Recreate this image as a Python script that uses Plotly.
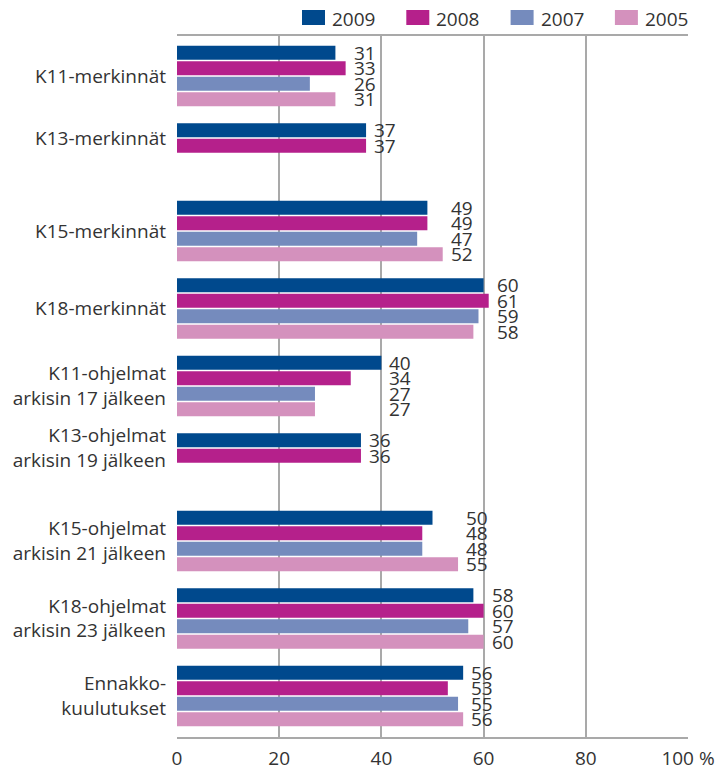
import plotly.graph_objects as go

categories = [
    "K11-merkinnät",
    "K13-merkinnät",
    "K15-merkinnät",
    "K18-merkinnät",
    "K11-ohjelmat<br>arkisin 17 jälkeen",
    "K13-ohjelmat<br>arkisin 19 jälkeen",
    "K15-ohjelmat<br>arkisin 21 jälkeen",
    "K18-ohjelmat<br>arkisin 23 jälkeen",
    "Ennakko-<br>kuulutukset",
]
years = ["2009", "2008", "2007", "2005"]
v2009 = [31, 37, 49, 60, 40, 36, 50, 58, 56]
v2008 = [33, 37, 49, 61, 34, 36, 48, 60, 53]
v2007 = [26, None, 47, 59, 27, None, 48, 57, 55]
v2005 = [31, None, 52, 58, 27, None, 55, 60, 56]
series = [v2009, v2008, v2007, v2005]
colors = ["#00498d", "#b5208b", "#758bbd", "#d491bd"]
x_ticks = [0, 20, 40, 60, 80, 100]
x_ticktext = ["0", "20", "40", "60", "80", "100 %"]

TEXT = "#333333"
FONT = "Open Sans"
FS = 19
GRID = "#a9a9a9"

GROUP = 5  # slots per category (4 bars + gap)

fig = go.Figure()
annotations = []
for j, (yr, vals, col) in enumerate(zip(years, series, colors)):
    ys = [GROUP * i + j for i in range(len(categories))]
    fig.add_trace(go.Bar(
        x=vals, y=ys, orientation="h", name=yr,
        marker=dict(color=col, line=dict(width=0)),
        width=0.9, showlegend=False, hoverinfo="x+name",
    ))

# value labels, aligned per group
for i in range(len(categories)):
    present = [s[i] for s in series if s[i] is not None]
    gmax = max(present)
    for j, s in enumerate(series):
        if s[i] is None:
            continue
        annotations.append(dict(
            x=gmax, y=GROUP * i + j, xref="x", yref="y",
            text=str(s[i]), showarrow=False, xanchor="left", yanchor="middle",
            xshift=6, font=dict(family=FONT, size=FS, color=TEXT),
        ))

# category tick positions: centre of the bars that exist
tickvals = []
for i in range(len(categories)):
    idx = [j for j, s in enumerate(series) if s[i] is not None]
    tickvals.append(GROUP * i + (min(idx) + max(idx)) / 2)

# page is rendered with an 8px body margin -> compensate
OFF = 8
PAGE_W, PAGE_H = 724, 770
PL, PR, PT, PB = 177, 688, 36, 737  # plot area in page pixels
W, H = PAGE_W - OFF, PAGE_H - OFF
L, T = PL - OFF, PT - OFF
R, B = PAGE_W - PR, PAGE_H - PB
pw, ph = PR - PL, PB - PT
def px_x(px):
    return (px - PL) / pw
def px_y(py):
    return (PB - py) / ph

# manual legend
shapes = []
for k, (yr, col) in enumerate(zip(years, colors)):
    x0 = 302 + k * 104.3
    shapes.append(dict(type="rect", xref="paper", yref="paper",
                       x0=px_x(x0), x1=px_x(x0 + 23), y0=px_y(25), y1=px_y(10),
                       fillcolor=col, line=dict(width=0)))
    annotations.append(dict(x=px_x(x0 + 28), y=px_y(19), xref="paper", yref="paper",
                            text=yr, showarrow=False, xanchor="left", yanchor="middle",
                            font=dict(family=FONT, size=FS, color=TEXT)))

fig.update_layout(
    width=W, height=H,
    margin=dict(l=L, r=R, t=T, b=B, autoexpand=False),
    paper_bgcolor="white", plot_bgcolor="white",
    barmode="overlay",
    font=dict(family=FONT, size=FS, color=TEXT),
    annotations=annotations, shapes=shapes,
    xaxis=dict(range=[0, 100], tickvals=x_ticks, ticktext=x_ticktext,
               showgrid=True, gridcolor=GRID, gridwidth=1.5, zeroline=False,
               showline=True, linecolor=GRID, linewidth=1.5, mirror=True,
               ticks="", tickfont=dict(family=FONT, size=FS, color=TEXT),
               ticklabelstandoff=3, automargin=False, fixedrange=True),
    yaxis=dict(range=[44.15, -1.08], tickvals=tickvals, ticktext=categories,
               showgrid=False, zeroline=False, showline=False,
               ticks="", tickfont=dict(family=FONT, size=FS, color=TEXT),
               ticklabelstandoff=10, automargin=False, fixedrange=True),
)

fig.write_html("out.html")
